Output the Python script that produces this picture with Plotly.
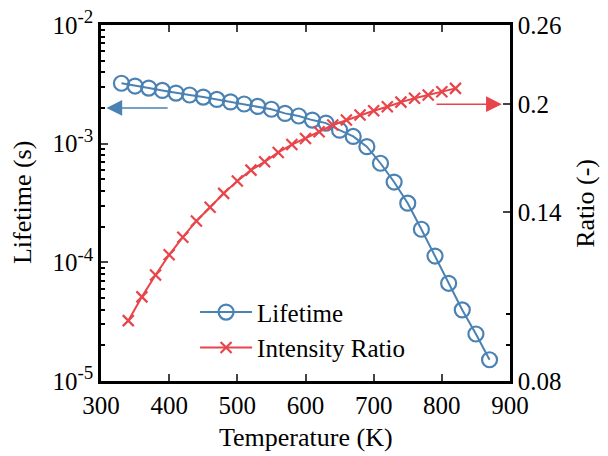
import plotly.graph_objects as go
import numpy as np

# ---- data ----
temp_lifetime = [330, 350, 370, 390, 410, 430, 450, 470, 490, 510, 530, 550, 570, 590,
                 610, 630, 650, 670, 690, 710, 730, 750, 770, 790, 810, 830, 850, 870]
lifetime = [3.23e-3, 3.06e-3, 2.94e-3, 2.81e-3, 2.67e-3, 2.57e-3, 2.47e-3, 2.36e-3,
            2.25e-3, 2.16e-3, 2.06e-3, 1.95e-3, 1.80e-3, 1.71e-3, 1.58e-3, 1.49e-3,
            1.30e-3, 1.15e-3, 9.44e-4, 6.84e-4, 4.75e-4, 3.15e-4, 1.90e-4, 1.13e-4,
            6.66e-5, 3.97e-5, 2.49e-5, 1.51e-5]

temp_ratio = [340, 360, 380, 400, 420, 440, 460, 480, 500, 520, 540, 560, 580, 600,
              620, 640, 660, 680, 700, 720, 740, 760, 780, 800, 820]
ratio = [0.0977, 0.1057, 0.1136, 0.1215, 0.1288, 0.1359, 0.1422, 0.1489, 0.1551,
         0.1608, 0.1653, 0.1705, 0.1750, 0.1786, 0.1826, 0.1867, 0.1898, 0.1930,
         0.1957, 0.1983, 0.2014, 0.2040, 0.2062, 0.2085, 0.2108]

x_ticks = [300, 400, 500, 600, 700, 800, 900]
left_ticks = [1e-5, 1e-4, 1e-3, 1e-2]
left_exponents = ["-5", "-4", "-3", "-2"]
right_ticks = [0.08, 0.14, 0.2, 0.26]
right_ticktext = ["0.08", "0.14", "0.2", "0.26"]

left_ticktext = ['10<sup><span style="font-size:19px">%s</span></sup>' % e
                 for e in left_exponents]

BLUE = "#4A82B4"
RED = "#E8454A"
FONT = "Liberation Serif, Times New Roman, serif"
TICKFONT = dict(family=FONT, size=25, color="black")

fig = go.Figure()
fig.add_trace(go.Scatter(
    x=temp_lifetime, y=lifetime, name="Lifetime", mode="lines+markers",
    line=dict(color=BLUE, width=2),
    marker=dict(symbol="circle-open", size=15, color=BLUE, line=dict(width=2.2, color=BLUE)),
    yaxis="y"))
fig.add_trace(go.Scatter(
    x=temp_ratio, y=ratio, name="Intensity Ratio", mode="lines+markers",
    line=dict(color=RED, width=2),
    marker=dict(symbol="x-thin", size=11, color=RED, line=dict(width=2.2, color=RED)),
    yaxis="y2"))

left_minor = [m * 10.0 ** e for e in range(-5, -2) for m in range(2, 10)]

# the page places the figure 8px from the top-left corner; size and margins compensate
fig.update_layout(
    width=600, height=448,
    margin=dict(l=93, r=98, t=17, b=75),
    paper_bgcolor="white", plot_bgcolor="white",
    font=dict(family=FONT, size=24, color="black"),
    showlegend=True,
    legend=dict(x=0.23, y=0.03, xanchor="left", yanchor="bottom",
                bgcolor="rgba(0,0,0,0)", font=dict(family=FONT, size=25),
                tracegroupgap=0, itemwidth=52),
    xaxis=dict(range=[300, 900], tickvals=x_ticks, ticks="inside", ticklen=7, tickwidth=2,
               showline=True, linecolor="black", linewidth=2.5, mirror="ticks",
               showgrid=False, zeroline=False, automargin=False,
               ticklabeloverflow="allow", tickfont=TICKFONT),
    yaxis=dict(type="log", range=[-5, -2], tickvals=left_ticks, ticktext=left_ticktext,
               ticks="inside", ticklen=7, tickwidth=2,
               minor=dict(tickvals=left_minor, ticks="inside", ticklen=4, tickwidth=1.5,
                          tickcolor="black"),
               showline=True, linecolor="black", linewidth=2.5, mirror=False,
               showgrid=False, zeroline=False, automargin=False,
               ticklabeloverflow="allow", tickfont=TICKFONT),
    yaxis2=dict(type="log", range=[np.log10(0.08), np.log10(0.26)], overlaying="y",
                side="right", tickvals=right_ticks, ticktext=right_ticktext,
                ticks="inside", ticklen=7, tickwidth=2,
                minor=dict(tickvals=[0.09, 0.1], ticks="inside", ticklen=4, tickwidth=1.5,
                           tickcolor="black"),
                showline=True, linecolor="black", linewidth=2.5,
                showgrid=False, zeroline=False, automargin=False,
                ticklabeloverflow="allow", tickfont=TICKFONT),
)

# axis titles
TITLEFONT = dict(family=FONT, size=26, color="black")
fig.add_annotation(text="Temperature (K)", x=0.5, y=-0.16, xref="paper", yref="paper",
                   xanchor="center", yanchor="middle", showarrow=False, font=TITLEFONT)
fig.add_annotation(text="Lifetime (s)", x=-0.193, y=0.5, xref="paper", yref="paper",
                   xanchor="center", yanchor="middle", textangle=-90, showarrow=False,
                   font=TITLEFONT)
fig.add_annotation(text="Ratio (-)", x=1.183, y=0.5, xref="paper", yref="paper",
                   xanchor="center", yanchor="middle", textangle=-90, showarrow=False,
                   font=TITLEFONT)

# arrows indicating which axis each curve belongs to
fig.add_annotation(x=308, y=np.log10(2e-3), ax=400, ay=np.log10(2e-3),
                   xref="x", yref="y", axref="x", ayref="y", text="",
                   showarrow=True, arrowhead=2, arrowsize=2.1, arrowwidth=1.5,
                   arrowcolor=BLUE)
fig.add_annotation(x=888, y=np.log10(0.2), ax=790, ay=np.log10(0.2),
                   xref="x", yref="y2", axref="x", ayref="y2", text="",
                   showarrow=True, arrowhead=2, arrowsize=2.1, arrowwidth=1.5,
                   arrowcolor=RED)

fig.write_html("out.html")
